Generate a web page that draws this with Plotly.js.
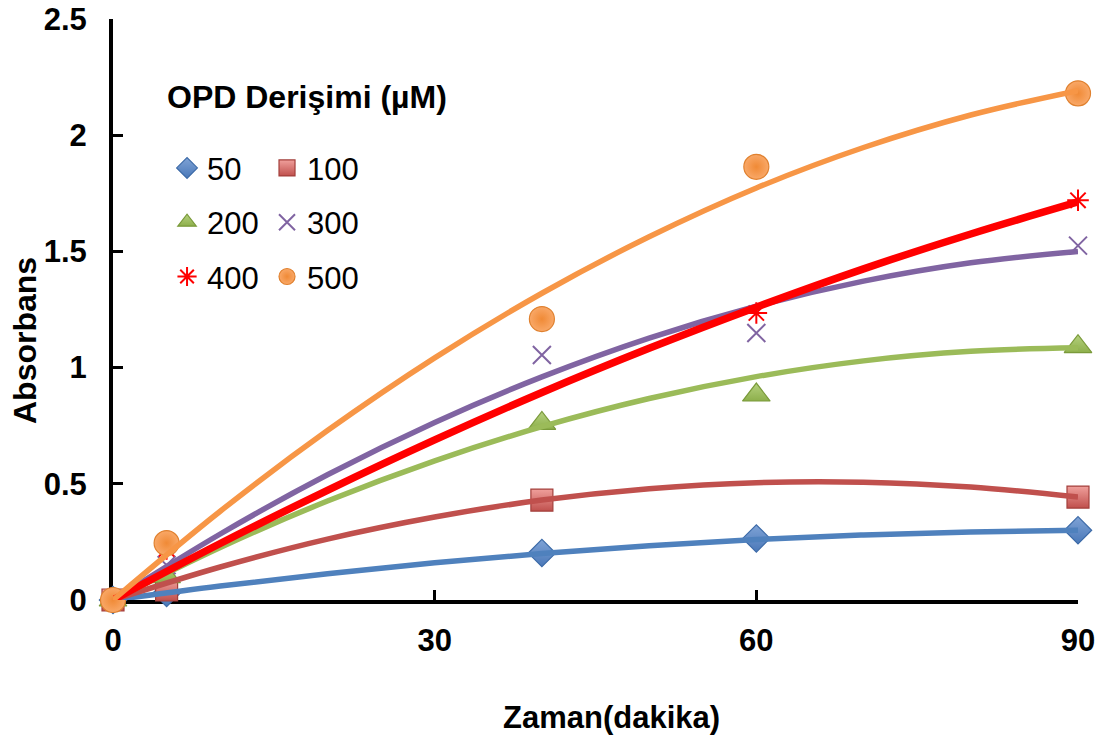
<!DOCTYPE html>
<html>
<head>
<meta charset="utf-8">
<script src="https://cdn.plot.ly/plotly-3.0.1.min.js"></script>
<style>html,body{margin:0;padding:0;background:#fff;}#chart{width:1103px;height:740px;}</style>
</head>
<body>
<div id="chart"></div>
<script>
// Measured points (time in minutes, absorbance)
const seriesNames = ["50", "100", "200", "300", "400", "500"];
const time50 = [0, 5, 40, 60, 90];
const abs50 = [0, 0.03, 0.202, 0.265, 0.30];
const time100 = [0, 5, 40, 90];
const abs100 = [0, 0.043, 0.43, 0.443];
const time200 = [0, 5, 40, 60, 90];
const abs200 = [0, 0.10, 0.76, 0.882, 1.09];
const time300 = [0, 5, 40, 60, 90];
const abs300 = [0, 0.15, 1.054, 1.149, 1.525];
const time400 = [0, 5, 60, 90];
const abs400 = [0, 0.22, 1.235, 1.72];
const time500 = [0, 5, 40, 60, 90];
const abs500 = [0, 0.245, 1.209, 1.864, 2.18];

// Trend lines
const trendTime = [0, 10, 20, 30, 40, 50, 60, 70, 80, 90];
const trend50 = [0, 0.060, 0.113, 0.160, 0.200, 0.233, 0.260, 0.280, 0.293, 0.300];
const trend100 = [0, 0.142, 0.262, 0.357, 0.430, 0.479, 0.505, 0.507, 0.486, 0.443];
const trend200 = [0, 0.226, 0.426, 0.599, 0.746, 0.867, 0.961, 1.029, 1.070, 1.085];
const trend300 = [0, 0.284, 0.539, 0.764, 0.960, 1.127, 1.264, 1.372, 1.451, 1.500];
const trend400 = [0, 0.243, 0.472, 0.689, 0.893, 1.083, 1.260, 1.425, 1.575, 1.713];
const trend500 = [0, 0.382, 0.729, 1.042, 1.320, 1.563, 1.773, 1.947, 2.087, 2.192];

const xTicks = [0, 30, 60, 90];
const yTicks = [0, 0.5, 1, 1.5, 2, 2.5];
const yTickText = ["0", "0.5", "1", "1.5", "2", "2.5"];
const xTitle = "Zaman(dakika)";
const yTitle = "Absorbans";
const legendTitle = "OPD Derişimi (µM)";

const FONT = "Liberation Sans, Arial, sans-serif";

const markerStyles = [
  {symbol: "diamond", size: 21, color: "#7FA3D6", line: {color: "#3D6BA8", width: 1.2}, gradient: {type: "vertical", color: "#4A78B8"}},
  {symbol: "square", size: 22, color: "#F0A09C", line: {color: "#A33F3B", width: 1.2}, gradient: {type: "vertical", color: "#C0504D"}},
  {symbol: "triangle-up", size: 24, color: "#B5D17E", line: {color: "#7A9A3A", width: 1.2}, gradient: {type: "vertical", color: "#8DAF4B"}},
  {symbol: "x-thin-open", size: 18, color: "#8064A2", line: {color: "#8064A2", width: 2}},
  {symbol: "asterisk-open", size: 18, color: "#FF0000", line: {color: "#FF0000", width: 2}},
  {symbol: "circle", size: 25, color: "#F9A868", line: {color: "#E0812F", width: 1.2}, gradient: {type: "radial", color: "#F08A36"}}
];
const lineColors = ["#4F81BD", "#C0504D", "#9BBB59", "#8064A2", "#FF0000", "#F79646"];
const lineWidths = [5.5, 5.5, 5.5, 5.5, 7.5, 5.5];
const pointX = [time50, time100, time200, time300, time400, time500];
const pointY = [abs50, abs100, abs200, abs300, abs400, abs500];
const trendY = [trend50, trend100, trend200, trend300, trend400, trend500];
const legendOf = ["legend", "legend2", "legend", "legend2", "legend", "legend2"];

const traces = [];
for (let i = 0; i < seriesNames.length; i++) {
  traces.push({
    x: pointX[i], y: pointY[i], type: "scatter", mode: "markers",
    name: seriesNames[i], legend: legendOf[i], legendgroup: "g" + i,
    marker: markerStyles[i], cliponaxis: false
  });
}
for (let i = 0; i < seriesNames.length; i++) {
  traces.push({
    x: trendTime, y: trendY[i], type: "scatter", mode: "lines",
    line: {color: lineColors[i], width: lineWidths[i], shape: "spline"},
    showlegend: false, hoverinfo: "skip", cliponaxis: false
  });
}

const legendCommon = {
  font: {family: FONT, size: 31, color: "#000"},
  bgcolor: "rgba(0,0,0,0)", borderwidth: 0,
  itemwidth: 30, tracegroupgap: 11, yanchor: "top", xanchor: "left",
  orientation: "v", itemclick: false
};

const boldFont = (s) => ({family: FONT, size: s, weight: 700, color: "#000"});

const layout = {
  width: 1103, height: 740,
  margin: {l: 113, r: 25, t: 19, b: 140},
  paper_bgcolor: "#fff", plot_bgcolor: "#fff",
  showlegend: true,
  font: {family: FONT, color: "#000"},
  xaxis: {
    range: [0, 90], tickmode: "array", tickvals: xTicks, ticktext: xTicks.map(String),
    showgrid: false, zeroline: false, showline: true, linecolor: "#000", linewidth: 4,
    ticks: "inside", ticklen: 10, tickwidth: 3, tickcolor: "#000",
    tickfont: boldFont(31), ticklabelstandoff: 10,
    layer: "below traces", fixedrange: true
  },
  yaxis: {
    range: [0, 2.5], tickmode: "array", tickvals: yTicks, ticktext: yTickText,
    showgrid: false, zeroline: false, showline: true, linecolor: "#000", linewidth: 4,
    ticks: "inside", ticklen: 10, tickwidth: 3, tickcolor: "#000",
    tickfont: boldFont(31), ticklabelstandoff: 16,
    layer: "below traces", fixedrange: true
  },
  legend: Object.assign({}, legendCommon, {x: 0.056, y: 0.7896}),
  legend2: Object.assign({}, legendCommon, {x: 0.1596, y: 0.7896}),
  annotations: [
    {text: legendTitle, xref: "paper", yref: "paper", x: 0.0539, y: 0.8657,
     xanchor: "left", yanchor: "middle", showarrow: false, font: boldFont(32)},
    {text: xTitle, xref: "paper", yref: "paper", x: 0.517, y: -0.2014,
     xanchor: "center", yanchor: "middle", showarrow: false, font: boldFont(31)},
    {text: yTitle, xref: "paper", yref: "paper", x: -0.0912, y: 0.4475, textangle: -90,
     xanchor: "center", yanchor: "middle", showarrow: false, font: boldFont(32)}
  ]
};

Plotly.newPlot("chart", traces, layout, {displayModeBar: false, staticPlot: true});
</script>
</body>
</html>
